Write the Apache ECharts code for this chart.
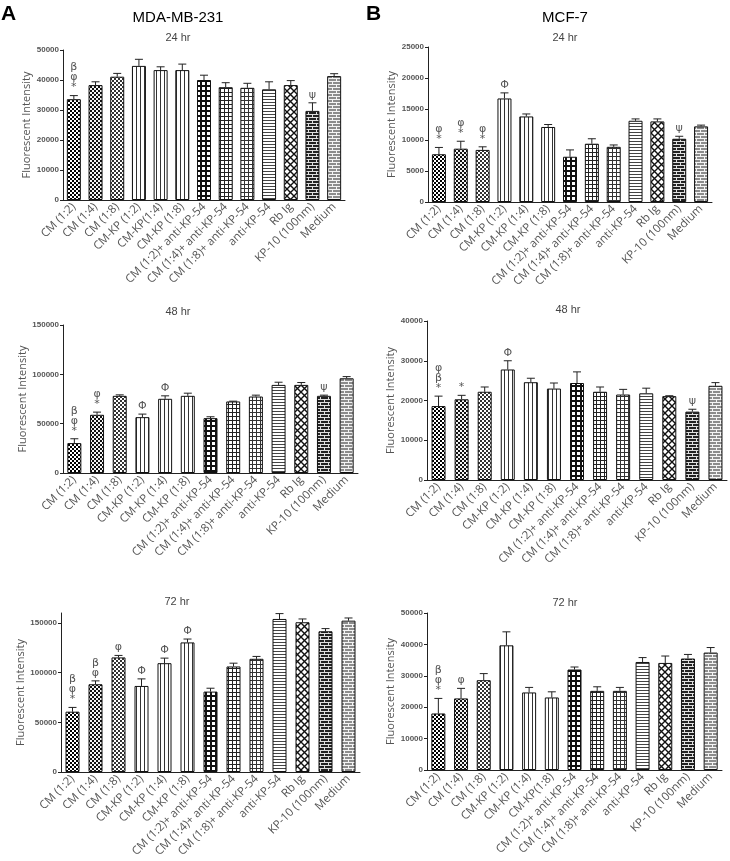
<!DOCTYPE html>
<html><head><meta charset="utf-8">
<script src="https://cdn.jsdelivr.net/npm/echarts@6.0.0/dist/echarts.min.js"></script>
<style>html,body{margin:0;padding:0;background:#fff}#c{width:730px;height:861px}</style>
</head><body><div id="c"></div><script>
// ---------- data ----------
const categories = ['CM (1:2)','CM (1:4)','CM (1:8)','CM-KP (1:2)','CM-KP (1:4)','CM-KP (1:8)','CM (1:2)+ anti-KP-54','CM (1:4)+ anti-KP-54','CM (1:8)+ anti-KP-54','anti-KP-54','Rb Ig','KP-10 (100nm)','Medium'];
const categoriesA24 = ['CM (1:2)','CM (1:4)','CM (1:8)','CM-KP (1:2)','CM-KP(1:4)','CM-KP (1:8)','CM (1:2)+ anti-KP-54','CM (1:4)+ anti-KP-54','CM (1:8)+ anti-KP-54','anti-KP-54','Rb Ig','KP-10 (100nm)','Medium'];
const categoriesB72 = ['CM (1:2)','CM (1:4)','CM (1:8)','CM-KP (1:2)','CM-KP (1:4)','CM-KP(1:8)','CM (1:2)+ anti-KP-54','CM (1:4)+ anti-KP-54','CM (1:8)+ anti-KP-54','anti-KP-54','Rb Ig','KP-10 (100nm)','Medium'];

const a24Mean = [33600, 38300, 41100, 44700, 43300, 43300, 40000, 37600, 37400, 36900, 38300, 29700, 41300];
const a24Sem  = [1200, 1100, 1100, 2200, 1100, 2000, 1600, 1500, 1500, 2500, 1500, 2700, 800];
const a24Marks = ['β\nφ\n*','','','','','','','','','','','ψ',''];

const b24Mean = [7700, 8600, 8400, 16700, 13800, 12100, 7300, 9400, 8900, 13100, 13000, 10200, 12200];
const b24Sem  = [1100, 1200, 500, 900, 400, 400, 1100, 800, 300, 300, 400, 400, 200];
const b24Marks = ['φ\n*','φ\n*','φ\n*','Φ','','','','','','','','ψ',''];

const a48Mean = [30300, 59000, 78200, 56600, 75200, 78200, 55600, 72500, 77500, 89300, 89300, 78200, 96000];
const a48Sem  = [4400, 2700, 1000, 3100, 3000, 2700, 1400, 300, 1400, 2700, 2400, 700, 1700];
const a48Marks = ['β\nφ\n*','φ\n*','','Φ','Φ','','','','','','','ψ',''];

const b48Mean = [18600, 20300, 22200, 27800, 24600, 23000, 24400, 22200, 21500, 21800, 21100, 17200, 23700];
const b48Sem  = [2500, 1000, 1200, 2200, 1000, 1400, 2800, 1200, 1300, 1300, 100, 600, 800];
const b48Marks = ['φ\nβ\n*','*','','Φ','','','','','','','','ψ',''];

const a72Mean = [60700, 88300, 115300, 86600, 109500, 130400, 80900, 106200, 113900, 154000, 150700, 141600, 152300];
const a72Sem  = [4300, 3400, 2000, 7100, 5100, 3400, 3400, 3300, 2400, 5400, 3300, 2700, 2700];
const a72Marks = ['β\nφ\n*','β\nφ','φ','Φ','Φ','Φ','','','','','','',''];

const b72Mean = [18000, 22800, 28600, 39700, 24700, 23100, 32000, 25200, 25200, 34400, 34100, 35500, 37400];
const b72Sem  = [4800, 3200, 2100, 4300, 1600, 1800, 800, 1300, 1100, 1400, 2200, 1300, 1600];
const b72Marks = ['β\nφ\n*','φ','','','','','','','','','','',''];

// ---------- patterns ----------
function pat(w, h, draw){ const c=document.createElement('canvas'); c.width=w; c.height=h; const g=c.getContext('2d'); draw(g,w,h); return {image:c, repeat:'repeat'}; }
const P = {
  chk1: pat(4,4,(g)=>{g.fillStyle='#fff';g.fillRect(0,0,4,4);g.fillStyle='#000';g.fillRect(0,0,2,2);g.fillRect(2,2,2,2);}),
  chk2: pat(4,4,(g)=>{g.fillStyle='#f4f4f4';g.fillRect(0,0,4,4);g.fillStyle='#111';g.fillRect(0,0,2,2);g.fillRect(2,2,2,2);}),
  chk3: pat(4,4,(g)=>{g.fillStyle='#fff';g.fillRect(0,0,4,4);g.fillStyle='#333';g.fillRect(0,0,2,2);g.fillRect(2,2,2,2);}),
  vline: pat(4,4,(g)=>{g.fillStyle='#fff';g.fillRect(0,0,4,4);g.fillStyle='#333';g.fillRect(0,0,1,4);}),
  grid1: pat(5,5,(g)=>{g.fillStyle='#fff';g.fillRect(0,0,5,5);g.fillStyle='#111';g.fillRect(0,0,5,2);g.fillRect(0,0,2,5);}),
  grid2: pat(4,4,(g)=>{g.fillStyle='#fff';g.fillRect(0,0,4,4);g.fillStyle='#222';g.fillRect(0,0,4,1);g.fillRect(0,0,1,4);}),
  grid3: pat(4,4,(g)=>{g.fillStyle='#fff';g.fillRect(0,0,4,4);g.fillStyle='#333';g.fillRect(0,0,4,1);g.fillRect(0,0,1,4);}),
  hline: pat(3,3,(g)=>{g.fillStyle='#fff';g.fillRect(0,0,3,3);g.fillStyle='#444';g.fillRect(0,0,3,1);}),
  diag: pat(7,7,(g)=>{g.fillStyle='#fff';g.fillRect(0,0,7,7);g.strokeStyle='#111';g.lineWidth=1.4;g.beginPath();g.moveTo(-1,-1);g.lineTo(8,8);g.moveTo(8,-1);g.lineTo(-1,8);g.stroke();}),
  brickD: pat(8,6,(g)=>{g.fillStyle='#222';g.fillRect(0,0,8,6);g.fillStyle='#e0e0e0';g.fillRect(0,0,8,1);g.fillRect(0,3,8,1);g.fillRect(0,0,1,3);g.fillRect(4,3,1,3);}),
  brickL: pat(8,6,(g)=>{g.fillStyle='#8c8c8c';g.fillRect(0,0,8,6);g.fillStyle='#f4f4f4';g.fillRect(0,0,8,1);g.fillRect(0,3,8,1);g.fillRect(0,0,1,3);g.fillRect(4,3,1,3);})
};
const barPatterns = [P.chk1,P.chk2,P.chk3,P.vline,P.vline,P.vline,P.grid1,P.grid2,P.grid3,P.hline,P.diag,P.brickD,P.brickL];

// ---------- panels ----------
const panels = [
  {cats:categoriesA24, mean:a24Mean, sem:a24Sem, marks:a24Marks, max:50000, interval:10000, grid:{left:63, top:50, width:282, height:150}},
  {cats:categories, mean:b24Mean, sem:b24Sem, marks:b24Marks, max:25000, interval:5000, grid:{left:428, top:47, width:284, height:155}},
  {cats:categories, mean:a48Mean, sem:a48Sem, marks:a48Marks, max:150000, interval:50000, grid:{left:63, top:325, width:295, height:148}},
  {cats:categories, mean:b48Mean, sem:b48Sem, marks:b48Marks, max:40000, interval:10000, grid:{left:427, top:321, width:300, height:159}},
  {cats:categories, mean:a72Mean, sem:a72Sem, marks:a72Marks, max:160000, interval:50000, grid:{left:61, top:613, width:299, height:159}, hideMax:true},
  {cats:categoriesB72, mean:b72Mean, sem:b72Sem, marks:b72Marks, max:50000, interval:10000, grid:{left:427, top:613, width:295, height:157}}
];

const grids=[], xAxes=[], yAxes=[], series=[];
panels.forEach((p,i)=>{
  grids.push(Object.assign({containLabel:false}, p.grid));
  xAxes.push({type:'category', gridIndex:i, data:p.cats,
    axisLine:{lineStyle:{color:'#222', width:1}}, axisTick:{show:false},
    axisLabel:{interval:0, rotate:45, margin:5, color:'#555', fontSize:11.5, fontFamily:'Open Sans'}});
  yAxes.push({type:'value', gridIndex:i, min:0, max:p.max, interval:p.interval,
    name:'Fluorescent Intensity', nameLocation:'middle', nameGap:28,
    nameTextStyle:{color:'#555', fontSize:11, fontFamily:'Open Sans'},
    splitLine:{show:false}, axisLine:{show:true, lineStyle:{color:'#222', width:1}},
    axisTick:{show:true, length:3, lineStyle:{color:'#222'}},
    axisLabel:{color:'#555', fontSize:8, fontWeight:'bold', margin:4, fontFamily:'Liberation Sans',
      formatter:(v)=>String(Math.round(v)), showMaxLabel: p.hideMax ? false : null}});
  series.push({type:'bar', xAxisIndex:i, yAxisIndex:i, barWidth:14,
    data:p.mean.map((v,k)=>({value:v, itemStyle:{color:barPatterns[k]}})),
    itemStyle:{borderColor:'#111', borderWidth:1}});
  const marks=p.marks;
  series.push({type:'custom', xAxisIndex:i, yAxisIndex:i, clip:false,
    data:p.mean.map((v,k)=>[k, v, v+p.sem[k]]),
    renderItem:function(params, api){
      const x=api.value(0), m=api.value(1), t=api.value(2);
      const p0=api.coord([x,m]), p1=api.coord([x,t]);
      const cap=4;
      const ch=[
        {type:'line', shape:{x1:p0[0],y1:p0[1],x2:p1[0],y2:p1[1]}, style:{stroke:'#222',lineWidth:1}},
        {type:'line', shape:{x1:p1[0]-cap,y1:p1[1],x2:p1[0]+cap,y2:p1[1]}, style:{stroke:'#222',lineWidth:1}}
      ];
      const mk=marks[params.dataIndex];
      if(mk) ch.push({type:'text', style:{text:mk, x:p1[0], y:p1[1]-3, align:'center', verticalAlign:'bottom', fontSize:11, lineHeight:10, fill:'#555', fontFamily:'DejaVu Sans'}});
      return {type:'group', children:ch};
    }});
});

function txt(t,x,y,size,weight,color){ return {type:'text', style:{text:t, x:x, y:y, align:'center', verticalAlign:'middle', fontSize:size, fontWeight:weight||'normal', fill:color||'#000', fontFamily:'Liberation Sans'}}; }
const graphics=[
  {type:'text', style:{text:'A', x:1, y:4, fontSize:21, fontWeight:'bold', fill:'#000', fontFamily:'Liberation Sans'}},
  {type:'text', style:{text:'B', x:366, y:4, fontSize:21, fontWeight:'bold', fill:'#000', fontFamily:'Liberation Sans'}},
  txt('MDA-MB-231',178,18,15,'normal','#000'),
  txt('MCF-7',565,18,15,'normal','#000'),
  txt('24 hr',178,38,11,'normal','#444'),
  txt('24 hr',565,38,11,'normal','#444'),
  txt('48 hr',178,312,11,'normal','#444'),
  txt('48 hr',568,310,11,'normal','#444'),
  txt('72 hr',177,602,11,'normal','#444'),
  txt('72 hr',565,603,11,'normal','#444')
];

const chart=echarts.init(document.getElementById('c'), null, {renderer:'canvas'});
chart.setOption({animation:false, backgroundColor:'#fff', grid:grids, xAxis:xAxes, yAxis:yAxes, series:series, graphic:graphics});
</script></body></html>
